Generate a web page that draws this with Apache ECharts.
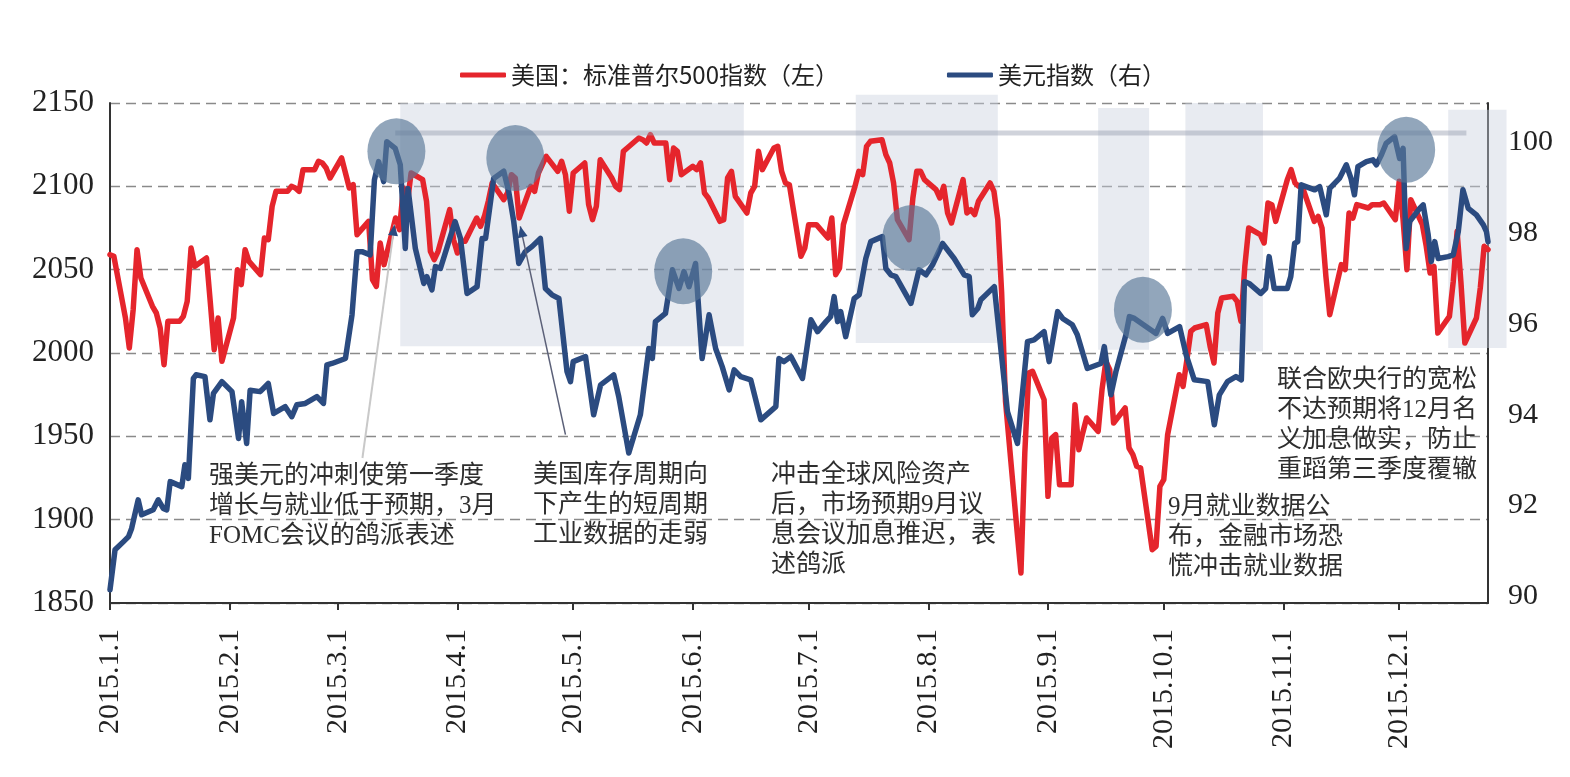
<!DOCTYPE html>
<html><head><meta charset="utf-8">
<script src="https://cdn.jsdelivr.net/npm/echarts@6/dist/echarts.min.js"></script>
<style>html,body{margin:0;padding:0;background:#fff}#c{width:1570px;height:777px}</style>
</head><body><div id="c"></div>
<script>
// x axis: day of year 2015 (0 = Jan 1)
const monthStartDays = [0,31,59,90,120,151,181,212,243,273,304,334];
const monthLabels = ['2015.1.1','2015.2.1','2015.3.1','2015.4.1','2015.5.1','2015.6.1','2015.7.1','2015.8.1','2015.9.1','2015.10.1','2015.11.1','2015.12.1'];

const spxName = '美国：标准普尔500指数（左）';
const dxyName = '美元指数（右）';

const spxDays = [0,1,4,5,6,7,8,11,12,13,14,15,18,19,20,21,22,25,26,27,28,29,32,33,34,35,36,39,40,41,42,43,46,47,48,49,50,53,54,55,56,57,60,61,62,63,64,67,68,69,70,71,74,75,76,77,78,81,82,83,84,85,88,89,90,91,92,95,96,97,98,99,102,103,104,105,106,109,110,111,112,113,116,117,118,119,120,123,124,125,126,127,130,131,132,133,134,137,138,139,140,141,144,145,146,147,148,151,152,153,154,155,158,159,160,161,162,165,166,167,168,169,172,173,174,175,176,179,180,181,182,183,186,187,188,189,190,193,194,195,196,197,200,201,202,203,204,207,208,209,210,211,214,215,216,217,218,221,222,223,224,225,228,229,230,231,232,235,236,237,238,239,242,243,244,245,246,249,250,251,252,253,256,257,258,259,260,263,264,265,266,267,270,271,272,273,274,277,278,279,280,281,284,285,286,287,288,291,292,293,294,295,298,299,300,301,302,305,306,307,308,309,312,313,314,315,316,319,320,321,322,323,326,327,328,329,330,333,334,335,336,337,340,341,342,343,344,347,348,349,350,351,354,355,356,357];
const spxValues = [2059,2058,2021,2003,2026,2062,2045,2028,2024,2015,1993,2019,2019,2022,2031,2063,2052,2057,2030,2002,2021,1995,2021,2050,2041,2062,2055,2047,2069,2068,2088,2097,2097,2100,2099,2097,2110,2110,2115,2114,2111,2105,2117,2108,2099,2101,2071,2079,2044,2040,2066,2053,2081,2074,2099,2089,2108,2104,2091,2061,2056,2061,2086,2068,2060,2067,2067,2081,2076,2082,2091,2102,2092,2096,2107,2105,2081,2100,2097,2108,2113,2118,2109,2115,2107,2085,2108,2114,2089,2080,2088,2116,2105,2100,2098,2121,2123,2129,2128,2126,2131,2126,2126,2104,2123,2121,2107,2112,2110,2114,2096,2093,2079,2080,2105,2109,2094,2084,2096,2100,2121,2110,2123,2124,2109,2102,2101,2058,2063,2077,2077,2077,2069,2081,2047,2051,2077,2100,2109,2107,2124,2127,2128,2119,2114,2102,2080,2068,2093,2109,2109,2104,2098,2093,2100,2084,2078,2104,2084,2086,2083,2091,2102,2097,2080,2036,1971,1893,1868,1940,1988,1989,1972,1914,1949,1951,1921,1921,1969,1942,1952,1961,1953,1978,1995,1990,1958,1967,1943,1939,1932,1931,1882,1884,1920,1924,1951,1987,1980,1996,2013,2015,2017,2004,1994,2024,2033,2034,2031,2019,2052,2075,2071,2066,2090,2089,2079,2104,2110,2102,2100,2099,2079,2082,2075,2046,2023,2053,2050,2084,2081,2089,2087,2089,2089,2089,2090,2080,2103,2080,2050,2092,2077,2064,2048,2052,2012,2022,2043,2073,2042,2006,2021,2039,2064,2062];

const dxyDays = [0,1.3,3.5,4.8,5.6,7.3,8.2,11.2,12.5,13.8,14.7,15.6,18.6,19.4,20.3,21.6,22.3,24.6,25.9,26.8,29.0,31.6,33.3,34.1,35.4,36.3,38.9,41.0,42.4,45.4,47.1,48.4,50.6,53.6,55.3,56.2,57.5,61.0,62.7,64.0,65.3,67.4,68.5,69.6,70.9,71.7,73.9,75.2,76.5,77.2,79.1,81.3,82.1,83.4,84.3,85.6,89.4,90.8,92.5,95.1,96.4,97.3,99.4,102.0,103.3,104.6,105.9,107.6,109.3,111.5,112.8,114.5,116.3,118.4,119.3,120.0,123.2,125.3,127.1,130.5,131.8,134.4,137.4,139.6,140.5,141.3,143.9,145.7,147.4,148.7,150.0,151.7,153.4,155.2,156.9,158.6,160.4,161.7,163.4,166.0,168.6,172.5,173.3,174.6,176.4,179.4,181.6,183.3,185.5,186.7,187.6,188.5,189.3,190.6,192.8,194.1,195.8,197.1,200.1,201.0,202.3,203.6,207.5,209.6,211.4,213.1,215.7,218.7,221.3,222.6,223.4,224.8,225.6,229.1,232.5,235.1,237.7,239.4,242.0,243.3,245.5,246.8,249.3,250.6,253.2,256.7,257.6,259.3,260.6,263.2,264.1,265.4,271.0,272.7,274.0,277.1,278.8,280.9,284.4,286.1,287.4,289.5,291.7,293.1,293.9,295.1,298.1,299.4,300.3,301.6,305.0,305.9,306.9,307.7,308.6,312.1,313.4,315.1,316.0,318.5,320.3,321.5,322.4,323.3,325.5,327.2,328.1,329.4,330.6,332.8,334.1,335.0,335.8,336.7,339.3,340.2,341.5,342.3,343.2,344.1,346.7,348.0,349.3,350.5,351.9,354.0,355.8,356.6,357.0];
const dxyValues = [90.29,91.17,91.35,91.46,91.64,92.27,91.94,92.05,92.27,92.08,92.05,92.67,92.56,93.04,92.74,94.94,95.02,94.98,94.03,94.61,94.87,94.65,93.62,94.43,93.51,94.68,94.65,94.83,94.17,94.32,94.10,94.36,94.39,94.54,94.39,95.24,95.27,95.38,96.34,97.73,97.73,97.66,99.31,99.71,99.27,100.15,100.00,99.64,97.80,99.12,97.80,97.03,97.18,96.89,97.40,97.36,98.39,98.02,96.81,96.96,98.02,98.02,99.34,99.50,99.05,98.39,97.47,97.73,97.84,98.02,96.92,96.78,96.70,95.09,94.87,95.31,95.42,94.14,94.80,95.02,94.54,93.30,94.14,95.60,95.38,96.19,96.37,97.33,96.92,97.29,96.96,97.47,95.38,96.34,95.60,95.20,94.69,95.13,94.98,94.91,94.03,94.32,95.38,95.31,95.42,94.94,96.23,95.97,96.19,96.30,96.74,96.19,96.41,95.86,96.70,96.78,97.58,97.95,98.06,97.36,97.22,97.18,96.59,97.33,97.22,97.44,97.91,97.58,97.22,97.18,96.34,96.48,96.67,96.96,94.21,93.51,95.75,95.79,95.97,95.31,96.41,96.26,96.12,95.90,95.16,95.27,95.64,94.58,95.09,95.90,96.30,96.26,95.93,96.26,95.93,96.08,95.46,94.91,94.87,93.92,94.58,94.87,94.98,94.91,97.07,97.03,96.81,96.92,97.62,96.92,96.92,97.18,97.91,97.95,99.20,99.09,99.16,98.54,99.12,99.34,99.64,99.34,98.98,99.60,99.71,99.75,99.64,99.86,100.11,100.26,99.78,100.00,97.80,98.39,98.68,98.76,98.10,97.51,97.95,97.58,97.62,97.66,98.17,99.09,98.68,98.54,98.32,98.17,97.95];

// annotation layer (data coordinates on x = day, y = left axis)
const shadeAreas = [[75.2,164.2,2150,2004],[193.2,230.0,2155,2006],[256.0,269.2,2147,2002],[278.6,298.7,2150,2001],[346.7,361.8,2146,2003]];
const highlightCircles = [[74.2,2121],[105.0,2117],[148.5,2049],[207.6,2069],[267.6,2026],[335.8,2122]];
const refLine = [73.9,351.4,2132];
const arrows = [
  {from:[65.4,1937], to:[73.7,2077], color:'#c9c9c9', width:2},
  {from:[118.0,1951], to:[106.3,2076], color:'#5b6078', width:1.5}
];
const notes = [
  {x:209, y:461, text:'强美元的冲刺使第一季度\n增长与就业低于预期，3月\nFOMC会议的鸽派表述'},
  {x:533, y:460, text:'美国库存周期向\n下产生的短周期\n工业数据的走弱'},
  {x:771, y:460, text:'冲击全球风险资产\n后，市场预期9月议\n息会议加息推迟，表\n述鸽派'},
  {x:1168, y:492, text:'9月就业数据公\n布，金融市场恐\n慌冲击就业数据'},
  {x:1277, y:365, text:'联合欧央行的宽松\n不达预期将12月名\n义加息做实，防止\n重蹈第三季度覆辙'}
];

const serif = '"Liberation Serif", "Times New Roman", serif';
const chart = echarts.init(document.getElementById('c'), null, {renderer:'canvas'});
chart.setOption({
  animation: false,
  backgroundColor: '#fff',
  grid: {left:110, right:82, top:103, bottom:174, containLabel:false},
  legend: {
    left: 455, top: 58, itemWidth: 46, itemHeight: 5, itemGap: 108, icon: 'roundRect',
    textStyle: {fontSize: 24, fontFamily: '"Noto Sans CJK SC", sans-serif', color: '#222'},
    data: [spxName, dxyName]
  },
  xAxis: {
    type: 'value', min: 0, max: 357,
    axisLine: {show: true, lineStyle: {color: '#333', width: 2}},
    axisTick: {show: true, length: 7, lineStyle: {color: '#333', width: 2}, customValues: monthStartDays},
    axisLabel: {
      customValues: monthStartDays, rotate: 90, margin: 26,
      fontSize: 30, fontFamily: serif, color: '#222',
      formatter: v => monthLabels[monthStartDays.indexOf(Math.round(v))] || ''
    },
    splitLine: {show: false}
  },
  yAxis: [
    {
      type: 'value', min: 1850, max: 2150, interval: 50, position: 'left',
      axisLine: {show: true, lineStyle: {color: '#333', width: 2}},
      axisTick: {show: false},
      axisLabel: {fontSize: 31, fontFamily: serif, color: '#222', margin: 16, formatter: v => String(v)},
      splitLine: {show: true, lineStyle: {color: '#8a8a8a', width: 1.3, type: [10, 6]}}
    },
    {
      type: 'value', min: 90, max: 101, interval: 2, position: 'right',
      axisLine: {show: true, lineStyle: {color: '#333', width: 2}},
      axisTick: {show: false},
      axisLabel: {fontSize: 30, fontFamily: serif, color: '#222', margin: 20,
        verticalAlign: 'bottom', lineHeight: 13,
        formatter: v => (v % 2 === 0 ? String(v) : '')},
      splitLine: {show: false}
    }
  ],
  series: [
    {
      name: spxName, type: 'line', yAxisIndex: 0, showSymbol: false, symbol: 'none',
      color: '#e5252c',
      lineStyle: {width: 5.5, color: '#e5252c', join: 'round', cap: 'round'},
      data: spxDays.map((d, i) => [d, spxValues[i]]), z: 3
    },
    {
      name: dxyName, type: 'line', yAxisIndex: 1, showSymbol: false, symbol: 'none',
      color: '#2b4b80',
      lineStyle: {width: 5.5, color: '#2b4b80', join: 'round', cap: 'round'},
      data: dxyDays.map((d, i) => [d, dxyValues[i]]), z: 4
    }
  ]
});

function px(p) { return chart.convertToPixel({xAxisIndex: 0, yAxisIndex: 0}, p); }
const g = [];
shadeAreas.forEach(a => {
  const p1 = px([a[0], a[2]]), p2 = px([a[1], a[3]]);
  g.push({type: 'rect', z: 1, silent: true,
    shape: {x: p1[0], y: p1[1], width: p2[0] - p1[0], height: p2[1] - p1[1]},
    style: {fill: 'rgba(200,208,222,0.42)'}});
});
{
  const a = px([refLine[0], refLine[2]]), b = px([refLine[1], refLine[2]]);
  g.push({type: 'line', z: 5, silent: true, shape: {x1: a[0], y1: a[1], x2: b[0], y2: b[1]},
    style: {stroke: 'rgba(150,158,175,0.45)', lineWidth: 5}});
}
arrows.forEach(ar => {
  const a = px(ar.from), b = px(ar.to);
  g.push({type: 'line', z: 6, silent: true, shape: {x1: a[0], y1: a[1], x2: b[0], y2: b[1]},
    style: {stroke: ar.color, lineWidth: ar.width}});
  const dx = b[0] - a[0], dy = b[1] - a[1], L = Math.hypot(dx, dy);
  const ux = dx / L, uy = dy / L, nx = -uy, ny = ux, len = 11, hw = 5;
  g.push({type: 'polygon', z: 7, silent: true,
    shape: {points: [[b[0], b[1]], [b[0] - ux*len + nx*hw, b[1] - uy*len + ny*hw], [b[0] - ux*len - nx*hw, b[1] - uy*len - ny*hw]]},
    style: {fill: '#2b4b80'}});
});
highlightCircles.forEach(c => {
  const p = px(c);
  g.push({type: 'circle', z: 8, silent: true, x: p[0], y: p[1], scaleY: 33/29,
    shape: {cx: 0, cy: 0, r: 29}, style: {fill: 'rgba(90,120,152,0.66)'}});
});
notes.forEach(n => {
  g.push({type: 'text', z: 9, silent: true, x: n.x, y: n.y,
    style: {text: n.text, fontSize: 25, fontFamily: '"Liberation Serif", "Noto Sans CJK SC", serif',
      fill: '#2e2e2e', lineHeight: 30, align: 'left', verticalAlign: 'top'}});
});
chart.setOption({graphic: g});
</script>
</body></html>
